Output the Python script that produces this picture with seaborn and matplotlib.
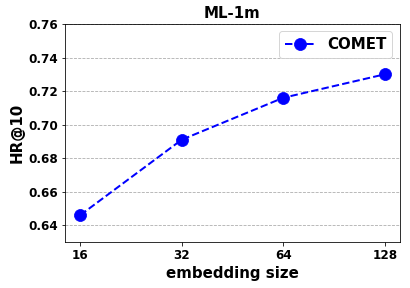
import matplotlib
matplotlib.use("Agg")
import matplotlib.pyplot as plt
import seaborn as sns
import pandas as pd

# data
emb_sizes = [16, 32, 64, 128]
hr10 = [0.646, 0.691, 0.716, 0.730]
y_ticks = [0.64, 0.66, 0.68, 0.70, 0.72, 0.74, 0.76]

df = pd.DataFrame({"emb": emb_sizes, "hr": hr10})

fig = plt.figure(figsize=(410 / 72, 288 / 72), dpi=72)
ax = fig.add_axes([0.1585, 0.1597, 0.8171, 0.757])

sns.lineplot(data=df, x="emb", y="hr", ax=ax, color="blue", linestyle="--",
             linewidth=2, marker="o", markersize=12, markeredgecolor="blue",
             label="COMET")

ax.set_xscale("log", base=2)
ax.set_xticks(emb_sizes)
ax.set_xticklabels([str(e) for e in emb_sizes])
ax.minorticks_off()
ax.set_yticks(y_ticks)
ax.set_ylim(0.63, 0.76)
ax.grid(axis="y", linestyle="--", color="#aaaaaa")
ax.set_axisbelow(True)

for lab in ax.get_xticklabels() + ax.get_yticklabels():
    lab.set_fontsize(12)
    lab.set_fontweight("bold")

ax.set_xlabel("embedding size", fontsize=15, fontweight="bold")
ax.set_ylabel("HR@10", fontsize=15, fontweight="bold")
ax.set_title("ML-1m", fontsize=15, fontweight="bold")
ax.legend(loc="upper right", prop={"size": 15, "weight": "bold"})

fig.savefig("out.png", dpi=72)
